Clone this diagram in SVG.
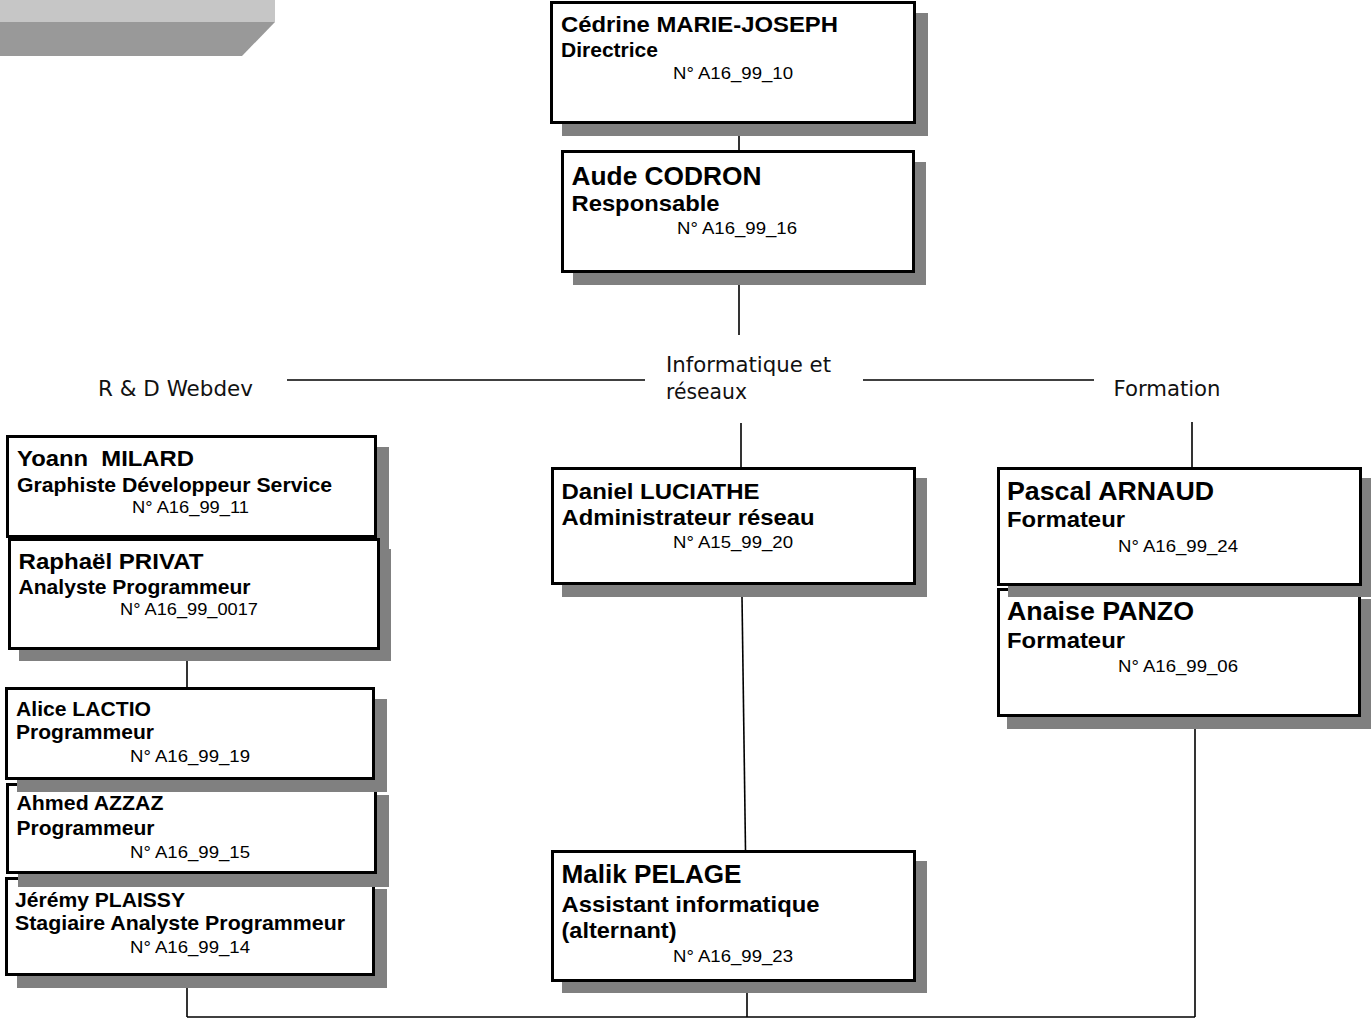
<svg xmlns="http://www.w3.org/2000/svg" width="1371" height="1018" viewBox="0 0 1371 1018">
<style>
.sh{fill:#808080}
.bx{fill:#fff;stroke:#000;stroke-width:3}
.nm{font-family:"Liberation Sans",Arial,sans-serif;font-weight:bold;fill:#000}
.id{font-family:"Liberation Sans",Arial,sans-serif;font-size:17px;fill:#000}
.lbl{font-family:"DejaVu Sans",Verdana,sans-serif;font-size:21.5px;fill:#111}
.cn{stroke:#000;stroke-width:1.6;fill:none}
</style>
<rect width="1371" height="1018" fill="#fff"/>
<g id="banner">
<rect x="0" y="0" width="275" height="22" fill="#c6c6c6"/>
<polygon points="0,22 275,22 242,56 0,56" fill="#999999"/>
</g>
<g id="connectors">
<path class="cn" d="M739 135V150"/>
<path class="cn" d="M739 285V335"/>
<path class="cn" d="M287 380H645"/>
<path class="cn" d="M863 380H1094"/>
<path class="cn" d="M741 423V467"/>
<path class="cn" d="M1192 422V467"/>
<path class="cn" d="M187 661V687"/>
<path class="cn" d="M742 597L745.5 850"/>
<path class="cn" d="M187 987V1017"/>
<path class="cn" d="M747 993V1017"/>
<path class="cn" d="M1195 729V1017"/>
<path class="cn" d="M187 1017H1195"/>
</g>
<g id="labels">
<text class="lbl" x="98" y="396" textLength="155" lengthAdjust="spacingAndGlyphs">R &amp; D Webdev</text>
<text class="lbl" x="666" y="371.5" textLength="165" lengthAdjust="spacingAndGlyphs">Informatique et</text>
<text class="lbl" x="666" y="398.5" textLength="81" lengthAdjust="spacingAndGlyphs">réseaux</text>
<text class="lbl" x="1113.5" y="395.5" textLength="107" lengthAdjust="spacingAndGlyphs">Formation</text>
</g>
<g id="cedrine">
<rect class="sh" x="562" y="13" width="366" height="123"/>
<rect class="bx" x="551.5" y="2.5" width="363" height="120"/>
<text class="nm" x="561" y="31.5" font-size="22" textLength="277" lengthAdjust="spacingAndGlyphs">Cédrine MARIE-JOSEPH</text>
<text class="nm" x="561" y="56.5" font-size="19.5" textLength="97" lengthAdjust="spacingAndGlyphs">Directrice</text>
<text class="id" x="673" y="79" textLength="120" lengthAdjust="spacingAndGlyphs">N° A16_99_10</text>
</g>
<g id="aude">
<rect class="sh" x="573" y="162" width="353" height="123"/>
<rect class="bx" x="562.5" y="151.5" width="351" height="120"/>
<text class="nm" x="571.5" y="184.5" font-size="25.5" textLength="190" lengthAdjust="spacingAndGlyphs">Aude CODRON</text>
<text class="nm" x="571.5" y="210.5" font-size="22" textLength="148" lengthAdjust="spacingAndGlyphs">Responsable</text>
<text class="id" x="677" y="233.5" textLength="120" lengthAdjust="spacingAndGlyphs">N° A16_99_16</text>
</g>
<g id="yoann">
<rect class="sh" x="18" y="447" width="371" height="103"/>
<rect class="bx" x="7.5" y="436.5" width="368" height="100"/>
<text class="nm" x="17" y="465.5" font-size="22" textLength="177" lengthAdjust="spacingAndGlyphs" xml:space="preserve">Yoann  MILARD</text>
<text class="nm" x="17" y="491.5" font-size="20" textLength="315" lengthAdjust="spacingAndGlyphs">Graphiste Développeur Service</text>
<text class="id" x="132" y="513" textLength="117" lengthAdjust="spacingAndGlyphs">N° A16_99_11</text>
</g>
<g id="raphael">
<rect class="sh" x="19" y="549" width="372" height="112"/>
<rect class="bx" x="9.5" y="539.5" width="369" height="109"/>
<text class="nm" x="18.5" y="568.5" font-size="22" textLength="185" lengthAdjust="spacingAndGlyphs">Raphaël PRIVAT</text>
<text class="nm" x="18.5" y="593.5" font-size="20" textLength="232" lengthAdjust="spacingAndGlyphs">Analyste Programmeur</text>
<text class="id" x="120" y="615" textLength="138" lengthAdjust="spacingAndGlyphs">N° A16_99_0017</text>
</g>
<g id="jeremy">
<rect class="sh" x="17" y="889" width="370" height="99"/>
<rect class="bx" x="6.5" y="878.5" width="367" height="96"/>
<text class="nm" x="15" y="906.5" font-size="20" textLength="170" lengthAdjust="spacingAndGlyphs">Jérémy PLAISSY</text>
<text class="nm" x="15" y="930" font-size="20.5" textLength="330" lengthAdjust="spacingAndGlyphs">Stagiaire Analyste Programmeur</text>
<text class="id" x="130" y="953" textLength="120" lengthAdjust="spacingAndGlyphs">N° A16_99_14</text>
</g>
<g id="ahmed">
<rect class="sh" x="18" y="795" width="371" height="92"/>
<rect class="bx" x="7.5" y="784.5" width="368" height="88"/>
<text class="nm" x="16.5" y="810" font-size="20.5" textLength="147" lengthAdjust="spacingAndGlyphs">Ahmed AZZAZ</text>
<text class="nm" x="16.5" y="835" font-size="20.5" textLength="138" lengthAdjust="spacingAndGlyphs">Programmeur</text>
<text class="id" x="130" y="858" textLength="120" lengthAdjust="spacingAndGlyphs">N° A16_99_15</text>
</g>
<g id="alice">
<rect class="sh" x="17" y="699" width="370" height="93"/>
<rect class="bx" x="6.5" y="688.5" width="367" height="90"/>
<text class="nm" x="16" y="716" font-size="20.5" textLength="135" lengthAdjust="spacingAndGlyphs">Alice LACTIO</text>
<text class="nm" x="16" y="739" font-size="20.5" textLength="138" lengthAdjust="spacingAndGlyphs">Programmeur</text>
<text class="id" x="130" y="762" textLength="120" lengthAdjust="spacingAndGlyphs">N° A16_99_19</text>
</g>
<g id="daniel">
<rect class="sh" x="562" y="478" width="365" height="119"/>
<rect class="bx" x="552.5" y="468.5" width="362" height="115"/>
<text class="nm" x="561.5" y="498.5" font-size="22.5" textLength="198" lengthAdjust="spacingAndGlyphs">Daniel LUCIATHE</text>
<text class="nm" x="561.5" y="525" font-size="22.5" textLength="253" lengthAdjust="spacingAndGlyphs">Administrateur réseau</text>
<text class="id" x="673" y="548" textLength="120" lengthAdjust="spacingAndGlyphs">N° A15_99_20</text>
</g>
<g id="malik">
<rect class="sh" x="562" y="861" width="365" height="132"/>
<rect class="bx" x="552.5" y="851.5" width="362" height="129"/>
<text class="nm" x="561.5" y="883" font-size="25" textLength="180" lengthAdjust="spacingAndGlyphs">Malik PELAGE</text>
<text class="nm" x="561.5" y="911.5" font-size="22.5" textLength="258" lengthAdjust="spacingAndGlyphs">Assistant informatique</text>
<text class="nm" x="561.5" y="938" font-size="22.5" textLength="115" lengthAdjust="spacingAndGlyphs">(alternant)</text>
<text class="id" x="673" y="961.5" textLength="120" lengthAdjust="spacingAndGlyphs">N° A16_99_23</text>
</g>
<g id="anaise">
<rect class="sh" x="1007" y="599" width="366" height="130"/>
<rect class="bx" x="998.5" y="589.5" width="361" height="126"/>
<text class="nm" x="1007" y="620" font-size="25" textLength="187" lengthAdjust="spacingAndGlyphs">Anaise PANZO</text>
<text class="nm" x="1007" y="648" font-size="22.5" textLength="118" lengthAdjust="spacingAndGlyphs">Formateur</text>
<text class="id" x="1118" y="671.5" textLength="120" lengthAdjust="spacingAndGlyphs">N° A16_99_06</text>
</g>
<g id="pascal">
<rect class="sh" x="1008" y="478" width="366" height="119"/>
<rect class="bx" x="998.5" y="468.5" width="362" height="116"/>
<text class="nm" x="1007" y="500" font-size="25" textLength="207" lengthAdjust="spacingAndGlyphs">Pascal ARNAUD</text>
<text class="nm" x="1007" y="526.5" font-size="22.5" textLength="118" lengthAdjust="spacingAndGlyphs">Formateur</text>
<text class="id" x="1118" y="551.5" textLength="120" lengthAdjust="spacingAndGlyphs">N° A16_99_24</text>
</g>
</svg>
